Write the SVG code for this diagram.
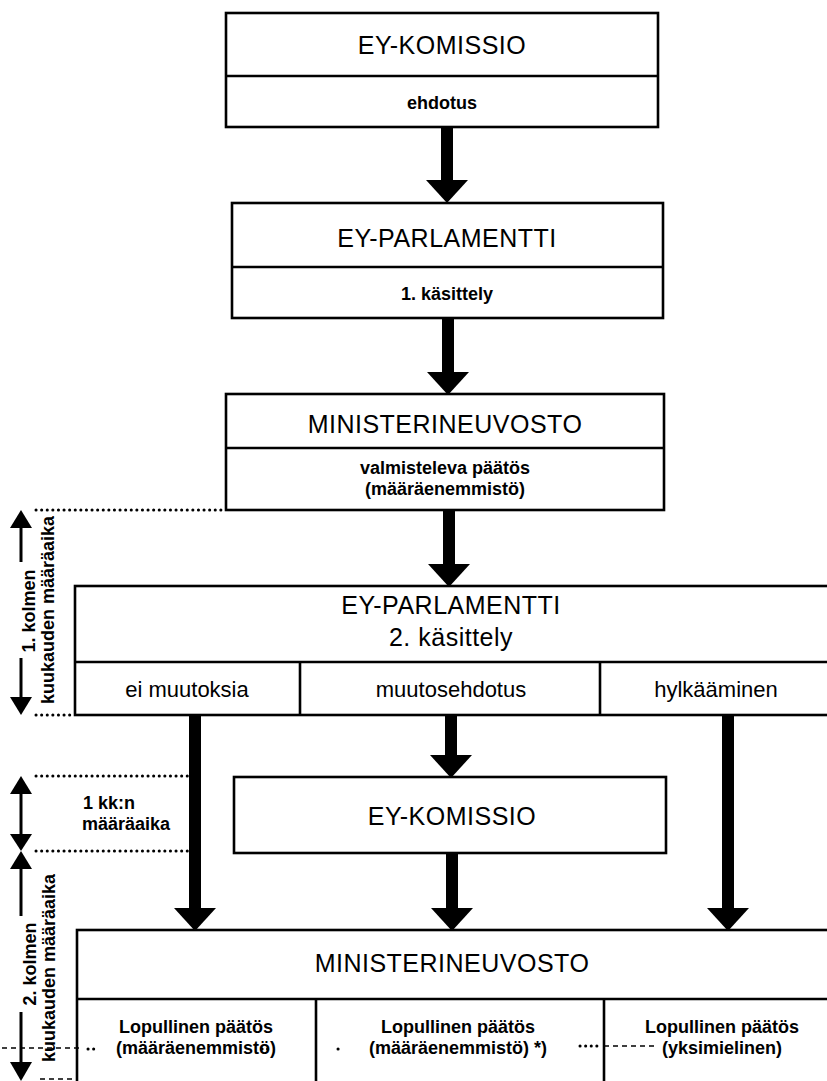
<svg xmlns="http://www.w3.org/2000/svg" width="827" height="1081" viewBox="0 0 827 1081">
<defs>
<style>
.box{fill:#fff;stroke:#000;stroke-width:2.6}
.ln{stroke:#000;stroke-width:2.6;fill:none}
.title{font-family:"Liberation Sans",Arial,sans-serif;font-size:25px;letter-spacing:0.5px;fill:#000;text-anchor:middle}
.sub{font-family:"Liberation Sans",Arial,sans-serif;font-size:18px;font-weight:bold;fill:#000;text-anchor:middle}
.opt{font-family:"Liberation Sans",Arial,sans-serif;font-size:22px;fill:#000;text-anchor:middle}
.ann{font-family:"Liberation Sans",Arial,sans-serif;font-size:18px;font-weight:bold;fill:#000}
.conn{stroke:#000;stroke-width:12;fill:none;marker-end:url(#ah)}
.dot{stroke:#000;stroke-width:3;stroke-linecap:round;stroke-dasharray:0.1 5.5;fill:none}
.dash{stroke:#000;stroke-width:1.6;stroke-dasharray:5 4;fill:none}
.thin{stroke:#000;stroke-width:3;fill:none}
</style>
<marker id="ah" markerUnits="userSpaceOnUse" viewBox="0 -21 23 42" refX="0" refY="0" markerWidth="23" markerHeight="42" orient="auto">
<path d="M0,-21 L23,0 L0,21 Z" fill="#000"/>
</marker>
</defs>

<g id="connectors">
<line class="conn" x1="447" y1="127" x2="447" y2="180"/>
<line class="conn" x1="448" y1="318" x2="448" y2="372"/>
<line class="conn" x1="449" y1="510" x2="449" y2="564"/>
<line class="conn" x1="195" y1="715" x2="195" y2="908"/>
<line class="conn" x1="451" y1="715" x2="451" y2="755"/>
<line class="conn" x1="728" y1="715" x2="728" y2="908"/>
<line class="conn" x1="452" y1="853" x2="452" y2="908"/>
</g>

<g id="ey-komissio-1">
<rect class="box" x="226" y="13" width="432" height="114"/>
<line class="ln" x1="226" y1="76" x2="658" y2="76"/>
<text class="title" x="442" y="54">EY-KOMISSIO</text>
<text class="sub" x="442" y="109">ehdotus</text>
</g>

<g id="ey-parlamentti-1">
<rect class="box" x="232" y="203" width="431" height="115"/>
<line class="ln" x1="232" y1="267" x2="663" y2="267"/>
<text class="title" x="447" y="247">EY-PARLAMENTTI</text>
<text class="sub" x="447" y="300">1.  käsittely</text>
</g>

<g id="ministerineuvosto-1">
<rect class="box" x="226" y="394" width="438" height="116"/>
<line class="ln" x1="226" y1="448" x2="664" y2="448"/>
<text class="title" x="445" y="433">MINISTERINEUVOSTO</text>
<text class="sub" x="445" y="474">valmisteleva  päätös</text>
<text class="sub" x="445" y="495">(määräenemmistö)</text>
</g>

<g id="ey-parlamentti-2">
<rect class="box" x="75" y="586" width="760" height="129"/>
<line class="ln" x1="75" y1="662" x2="835" y2="662"/>
<line class="ln" x1="300" y1="662" x2="300" y2="715"/>
<line class="ln" x1="600" y1="662" x2="600" y2="715"/>
<text class="title" x="451" y="614">EY-PARLAMENTTI</text>
<text class="title" x="451" y="646">2. käsittely</text>
<text class="opt" x="187" y="697">ei  muutoksia</text>
<text class="opt" x="451" y="697">muutosehdotus</text>
<text class="opt" x="716" y="697">hylkääminen</text>
</g>

<g id="ey-komissio-2">
<rect class="box" x="234" y="777" width="432" height="76"/>
<text class="title" x="452" y="825">EY-KOMISSIO</text>
</g>

<g id="ministerineuvosto-2">
<rect class="box" x="77" y="930" width="760" height="160"/>
<line class="ln" x1="77" y1="999" x2="837" y2="999"/>
<line class="ln" x1="316" y1="999" x2="316" y2="1081"/>
<line class="ln" x1="604" y1="999" x2="604" y2="1081"/>
<text class="title" x="452" y="972">MINISTERINEUVOSTO</text>
<text class="sub" x="196" y="1033">Lopullinen  päätös</text>
<text class="sub" x="196" y="1054">(määräenemmistö)</text>
<text class="sub" x="458" y="1033">Lopullinen  päätös</text>
<text class="sub" x="458" y="1054">(määräenemmistö) *)</text>
<text class="sub" x="722" y="1033">Lopullinen  päätös</text>
<text class="sub" x="722" y="1054">(yksimielinen)</text>
</g>

<g id="timeline-1">
<line class="dot" x1="36" y1="510" x2="224" y2="510"/>
<line class="dot" x1="36" y1="715" x2="73" y2="715"/>
<path d="M21,510 L32,528 L10,528 Z" fill="#000"/>
<line class="thin" x1="21" y1="526" x2="21" y2="562"/>
<line class="thin" x1="21" y1="658" x2="21" y2="699"/>
<path d="M21,715 L32,697 L10,697 Z" fill="#000"/>
<text class="ann" transform="translate(35,611) rotate(-90)" text-anchor="middle">1.  kolmen</text>
<text class="ann" transform="translate(54,610) rotate(-90)" text-anchor="middle">kuukauden  määräaika</text>
</g>

<g id="timeline-kk">
<line class="dot" x1="36" y1="776" x2="192" y2="776"/>
<line class="dot" x1="36" y1="851" x2="192" y2="851"/>
<path d="M21,776 L32,794 L10,794 Z" fill="#000"/>
<line class="thin" x1="21" y1="792" x2="21" y2="836"/>
<path d="M21,851 L32,834 L10,834 Z" fill="#000"/>
<text class="ann" x="83" y="809">1  kk:n</text>
<text class="ann" x="82" y="830">määräaika</text>
</g>

<g id="timeline-2">
<path d="M21,851 L32,869 L10,869 Z" fill="#000"/>
<line class="thin" x1="21" y1="867" x2="21" y2="916"/>
<line class="thin" x1="21" y1="1012" x2="21" y2="1064"/>
<path d="M21,1081 L32,1062 L10,1062 Z" fill="#000"/>
<text class="ann" transform="translate(36,964) rotate(-90)" text-anchor="middle">2.  kolmen</text>
<text class="ann" transform="translate(55,968) rotate(-90)" text-anchor="middle">kuukauden  määräaika</text>
</g>

<g id="marks">
<line class="dash" x1="2" y1="1048" x2="80" y2="1048"/>
<line class="dot" x1="88" y1="1049" x2="96" y2="1049"/>
<line class="dot" x1="262" y1="1049" x2="272" y2="1049"/>
<line class="dot" x1="338" y1="1049" x2="340" y2="1049"/>
<line class="dot" x1="580" y1="1046" x2="600" y2="1046"/>
<line class="dash" x1="604" y1="1046" x2="656" y2="1046"/>
<line class="dash" x1="40" y1="1079" x2="77" y2="1079"/>
</g>
</svg>
